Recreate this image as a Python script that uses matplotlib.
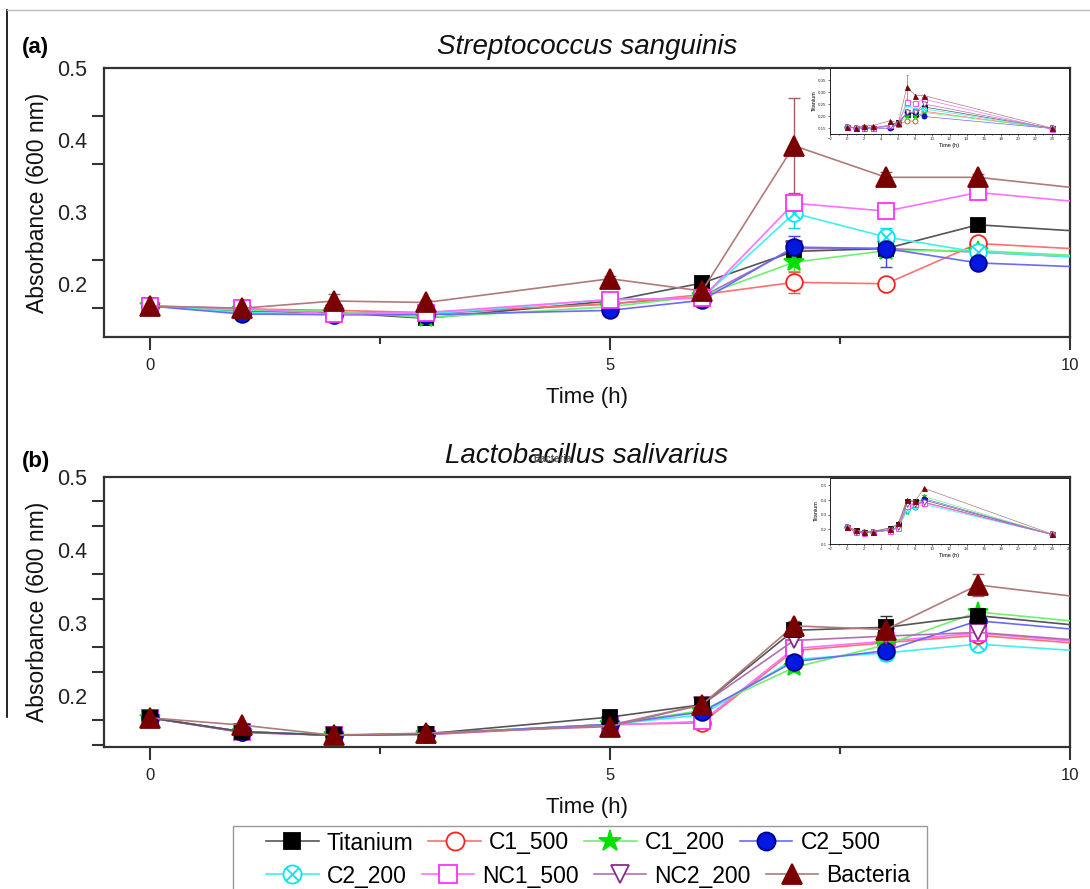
import matplotlib
matplotlib.use("Agg")
import matplotlib.pyplot as plt
from matplotlib.lines import Line2D
from matplotlib.path import Path
from matplotlib.patches import Rectangle
import numpy as np

plt.rcParams['font.family'] = ['Liberation Sans', 'DejaVu Sans']

# ---------------- data ----------------
times = [0, 1, 2, 3, 5, 6, 7, 8, 9, 24]
series_names = ["Titanium", "C1_500", "C1_200", "C2_500", "C2_200", "NC1_500", "NC2_200", "Bacteria"]

# (a) Streptococcus sanguinis - main panel
a_titanium = [0.169, 0.162, 0.160, 0.152, 0.176, 0.201, 0.245, 0.249, 0.282, 0.160]
a_c1_500   = [0.169, 0.165, 0.163, 0.160, 0.172, 0.185, 0.202, 0.200, 0.256, 0.151]
a_c1_200   = [0.169, 0.163, 0.162, 0.153, 0.168, 0.183, 0.230, 0.246, 0.246, 0.150]
a_c2_500   = [0.169, 0.158, 0.157, 0.157, 0.163, 0.177, 0.251, 0.249, 0.229, 0.154]
a_c2_200   = [0.169, 0.160, 0.157, 0.158, 0.178, 0.180, 0.298, 0.265, 0.244, 0.150]
a_nc1_500  = [0.169, 0.166, 0.158, 0.160, 0.178, 0.180, 0.312, 0.301, 0.327, 0.147]
a_nc2_200  = [0.169, 0.163, 0.160, 0.158, 0.172, 0.182, 0.249, 0.249, 0.244, 0.150]
a_bacteria = [0.169, 0.166, 0.176, 0.174, 0.207, 0.190, 0.392, 0.348, 0.348, 0.140]

a_err_titanium = [0.003, 0.003, 0.003, 0.003, 0.004, 0.008, 0.006, 0.008, 0.004, 0.003]
a_err_c1_500   = [0.003, 0.003, 0.003, 0.003, 0.004, 0.004, 0.015, 0.006, 0.005, 0.003]
a_err_c1_200   = [0.003, 0.003, 0.003, 0.003, 0.004, 0.004, 0.012, 0.008, 0.005, 0.003]
a_err_c2_500   = [0.003, 0.003, 0.003, 0.003, 0.004, 0.004, 0.015, 0.025, 0.004, 0.003]
a_err_c2_200   = [0.003, 0.003, 0.003, 0.003, 0.004, 0.004, 0.020, 0.012, 0.005, 0.003]
a_err_nc1_500  = [0.003, 0.003, 0.003, 0.003, 0.004, 0.004, 0.008, 0.008, 0.004, 0.003]
a_err_nc2_200  = [0.003, 0.003, 0.003, 0.003, 0.004, 0.004, 0.006, 0.006, 0.005, 0.003]
a_err_bacteria = [0.003, 0.003, 0.010, 0.004, 0.004, 0.004, 0.066, 0.008, 0.004, 0.003]

# (b) Lactobacillus salivarius - main panel
b_titanium = [0.170, 0.151, 0.146, 0.148, 0.171, 0.188, 0.290, 0.294, 0.310, 0.125]
b_c1_500   = [0.170, 0.151, 0.146, 0.148, 0.161, 0.163, 0.262, 0.273, 0.283, 0.130]
b_c1_200   = [0.170, 0.151, 0.146, 0.148, 0.161, 0.180, 0.239, 0.270, 0.315, 0.135]
b_c2_500   = [0.170, 0.151, 0.146, 0.148, 0.161, 0.178, 0.247, 0.262, 0.303, 0.135]
b_c2_200   = [0.170, 0.151, 0.147, 0.148, 0.161, 0.174, 0.250, 0.259, 0.271, 0.145]
b_nc1_500  = [0.170, 0.150, 0.146, 0.147, 0.160, 0.165, 0.265, 0.275, 0.286, 0.125]
b_nc2_200  = [0.170, 0.150, 0.146, 0.147, 0.160, 0.188, 0.276, 0.282, 0.287, 0.140]
b_bacteria = [0.170, 0.160, 0.146, 0.149, 0.158, 0.188, 0.296, 0.291, 0.352, 0.127]

b_err_titanium = [0.003, 0.003, 0.003, 0.003, 0.003, 0.004, 0.006, 0.015, 0.006, 0.003]
b_err_c1_500   = [0.003, 0.003, 0.003, 0.003, 0.003, 0.004, 0.006, 0.006, 0.006, 0.003]
b_err_c1_200   = [0.003, 0.003, 0.003, 0.003, 0.003, 0.004, 0.006, 0.008, 0.006, 0.003]
b_err_c2_500   = [0.003, 0.003, 0.003, 0.003, 0.003, 0.004, 0.006, 0.008, 0.006, 0.003]
b_err_c2_200   = [0.003, 0.003, 0.003, 0.003, 0.003, 0.004, 0.006, 0.010, 0.006, 0.003]
b_err_nc1_500  = [0.003, 0.003, 0.003, 0.003, 0.003, 0.004, 0.008, 0.006, 0.006, 0.003]
b_err_nc2_200  = [0.003, 0.003, 0.003, 0.003, 0.003, 0.004, 0.008, 0.006, 0.006, 0.003]
b_err_bacteria = [0.003, 0.003, 0.003, 0.003, 0.003, 0.004, 0.006, 0.006, 0.015, 0.003]

# insets (full 24 h time course)
ia_titanium = [0.155, 0.150, 0.152, 0.150, 0.160, 0.175, 0.210, 0.210, 0.238, 0.148]
ia_c1_500   = [0.155, 0.152, 0.155, 0.152, 0.158, 0.165, 0.180, 0.178, 0.220, 0.148]
ia_c1_200   = [0.155, 0.150, 0.152, 0.150, 0.155, 0.165, 0.200, 0.200, 0.215, 0.148]
ia_c2_500   = [0.155, 0.148, 0.148, 0.148, 0.148, 0.165, 0.215, 0.215, 0.198, 0.148]
ia_c2_200   = [0.155, 0.150, 0.150, 0.150, 0.160, 0.168, 0.250, 0.225, 0.230, 0.148]
ia_nc1_500  = [0.155, 0.152, 0.152, 0.152, 0.162, 0.168, 0.260, 0.255, 0.270, 0.145]
ia_nc2_200  = [0.155, 0.150, 0.152, 0.150, 0.158, 0.166, 0.215, 0.215, 0.250, 0.148]
ia_bacteria = [0.155, 0.152, 0.160, 0.160, 0.180, 0.172, 0.320, 0.285, 0.285, 0.150]
ia_err_bacteria = [0.003, 0.003, 0.004, 0.004, 0.004, 0.004, 0.050, 0.006, 0.004, 0.003]

ib_titanium = [0.215, 0.195, 0.180, 0.185, 0.210, 0.235, 0.390, 0.390, 0.400, 0.165]
ib_c1_500   = [0.215, 0.185, 0.180, 0.182, 0.195, 0.210, 0.360, 0.370, 0.385, 0.165]
ib_c1_200   = [0.215, 0.185, 0.180, 0.182, 0.195, 0.215, 0.320, 0.350, 0.425, 0.165]
ib_c2_500   = [0.215, 0.185, 0.180, 0.182, 0.195, 0.215, 0.340, 0.350, 0.410, 0.165]
ib_c2_200   = [0.215, 0.182, 0.178, 0.180, 0.195, 0.215, 0.330, 0.350, 0.370, 0.165]
ib_nc1_500  = [0.215, 0.180, 0.178, 0.180, 0.192, 0.208, 0.360, 0.370, 0.380, 0.165]
ib_nc2_200  = [0.215, 0.180, 0.178, 0.180, 0.195, 0.215, 0.370, 0.375, 0.385, 0.165]
ib_bacteria = [0.215, 0.198, 0.180, 0.185, 0.200, 0.240, 0.400, 0.395, 0.480, 0.168]

a_yticks = [0.5, 0.4, 0.3, 0.2]
b_yticks = [0.5, 0.4, 0.3, 0.2]
x_ticks = [0, 5, 10]

# ---------------- styles ----------------
d = 0.7071
cross_circle = Path.make_compound_path(
    Path.unit_circle(),
    Path([[-d, -d], [d, d], [-d, d], [d, -d]],
         [Path.MOVETO, Path.LINETO, Path.MOVETO, Path.LINETO]))

styles = {
    "Titanium": dict(marker='s', mfc='black', mec='black', ms=10, line='#555555', ecol='#333333'),
    "C1_500":   dict(marker='o', mfc='white', mec='#ff2020', ms=12, line='#ff7070', ecol='#ff5050'),
    "C1_200":   dict(marker='*', mfc='#00e000', mec='#00e000', ms=15, line='#70f070', ecol='#40e040'),
    "C2_500":   dict(marker='o', mfc='#0018e0', mec='#000090', ms=12, line='#6a6aff', ecol='#4040ff'),
    "C2_200":   dict(marker=cross_circle, mfc='white', mec='#00e8f0', ms=12, line='#40f0f0', ecol='#00d8e8'),
    "NC1_500":  dict(marker='s', mfc='white', mec='#ff30ff', ms=12, line='#ff70ff', ecol='#ff40ff'),
    "NC2_200":  dict(marker='v', mfc='white', mec='#8a2a8a', ms=12, line='#b070b0', ecol='#9a409a'),
    "Bacteria": dict(marker='^', mfc='#7a0000', mec='#7a0000', ms=14, line='#b07a7a', ecol='#a06060'),
}
order_a = ["NC2_200", "Titanium", "C1_500", "C1_200", "C2_200", "C2_500", "NC1_500", "Bacteria"]
order_b = ["C2_200", "C1_500", "NC1_500", "C1_200", "C2_500", "NC2_200", "Titanium", "Bacteria"]

a_data = [a_titanium, a_c1_500, a_c1_200, a_c2_500, a_c2_200, a_nc1_500, a_nc2_200, a_bacteria]
a_errs = [a_err_titanium, a_err_c1_500, a_err_c1_200, a_err_c2_500, a_err_c2_200, a_err_nc1_500, a_err_nc2_200, a_err_bacteria]
b_data = [b_titanium, b_c1_500, b_c1_200, b_c2_500, b_c2_200, b_nc1_500, b_nc2_200, b_bacteria]
b_errs = [b_err_titanium, b_err_c1_500, b_err_c1_200, b_err_c2_500, b_err_c2_200, b_err_nc1_500, b_err_nc2_200, b_err_bacteria]
ia_data = [ia_titanium, ia_c1_500, ia_c1_200, ia_c2_500, ia_c2_200, ia_nc1_500, ia_nc2_200, ia_bacteria]
ib_data = [ib_titanium, ib_c1_500, ib_c1_200, ib_c2_500, ib_c2_200, ib_nc1_500, ib_nc2_200, ib_bacteria]

W, H = 1090, 889
fig = plt.figure(figsize=(W / 100, H / 100), dpi=100)


def fx(px):
    return px / W


def fy(py):
    return 1 - py / H


def main_panel(rect, data, errs, order, ylim, yticks, minor_step, title, letter, letter_y):
    ax = fig.add_axes(rect)
    lookup = dict(zip(series_names, zip(data, errs)))
    for z, name in enumerate(order):
        vals, err = lookup[name]
        st = styles[name]
        ax.errorbar(times, vals, yerr=err, fmt='none', ecolor=st['ecol'],
                    elinewidth=1.0, capsize=4, capthick=1.0, zorder=2, clip_on=True)
        ax.plot(times, vals, color=st['line'], lw=1.2, marker=st['marker'],
                ms=st['ms'], mfc=st['mfc'], mec=st['mec'], mew=1.3, zorder=3 + z * 0.01)
    ax.set_xlim(-0.5, 10)
    ax.set_ylim(*ylim)
    ax.set_xticks(x_ticks)
    ax.set_xticks([2.5, 7.5], minor=True)
    ax.set_yticks(yticks)
    ax.set_yticklabels([f"{v:.1f}" for v in yticks])
    ax.set_yticks(np.arange(0.5, ylim[0], -minor_step), minor=True)
    ax.tick_params(axis='y', which='major', length=0, pad=12, labelsize=15.5, colors='#222222')
    ax.tick_params(axis='y', which='minor', length=9, width=1.5, color='#333333', direction='out')
    ax.tick_params(axis='x', which='major', length=9, width=1.5, color='#333333',
                   pad=6, labelsize=12, labelcolor='#222222', direction='out')
    ax.tick_params(axis='x', which='minor', length=5, width=1.5, color='#333333', direction='out')
    for s in ax.spines.values():
        s.set_linewidth(1.6)
        s.set_color('#333333')
    ax.set_xlabel("Time (h)", fontsize=16, labelpad=10, color='#111111')
    ax.set_ylabel("Absorbance (600 nm)", fontsize=16.5, labelpad=6, color='#111111')
    ax.set_title(title, fontsize=20, style='italic', pad=10, color='#111111')
    fig.text(fx(22), fy(letter_y), letter, fontsize=16, fontweight='bold', va='center', ha='left')
    return ax


def inset(rect, data, ylim, yticks, ylabels, err=None):
    ax = fig.add_axes(rect)
    ax.set_facecolor('white')
    for name, vals in zip(series_names, data):
        st = styles[name]
        if name == "Bacteria" and err is not None:
            ax.errorbar(times, vals, yerr=err, fmt='none', ecolor=st['ecol'],
                        elinewidth=0.5, capsize=1, capthick=0.5, zorder=2)
        ax.plot(times, vals, color=st['line'], lw=0.5, marker=st['marker'],
                ms=3.6, mfc=st['mfc'], mec=st['mec'], mew=0.6, zorder=3)
    ax.set_xlim(-2, 26)
    ax.set_ylim(*ylim)
    ax.set_xticks(np.arange(-2, 27, 2))
    ax.set_xticks(np.arange(-2, 27, 1), minor=True)
    ax.set_yticks(yticks)
    ax.set_yticklabels(ylabels)
    ax.tick_params(which='both', labelsize=3.2, length=1.5, width=0.5, pad=1, colors='#333333')
    ax.tick_params(which='minor', length=1)
    for s in ax.spines.values():
        s.set_linewidth(0.7)
        s.set_color('#222222')
    ax.set_xlabel("Time (h)", fontsize=4, labelpad=1)
    ax.set_ylabel("Titanium", fontsize=4, labelpad=1)
    return ax


# panel (a)
ax_a = main_panel([fx(104), fy(337), fx(1070) - fx(104), fy(68) - fy(337)],
                  a_data, a_errs, order_a, (0.126, 0.5), a_yticks, 1 / 15,
                  "Streptococcus sanguinis", "(a)", 48)
# panel (b)
ax_b = main_panel([fx(104), fy(747), fx(1070) - fx(104), fy(477) - fy(747)],
                  b_data, b_errs, order_b, (0.130, 0.5), b_yticks, 1 / 30,
                  "Lactobacillus salivarius", "(b)", 462)

inset([fx(830), fy(134), fx(1069) - fx(830), fy(68) - fy(134)], ia_data,
      (0.125, 0.40), [0.15, 0.20, 0.25, 0.30, 0.35, 0.40],
      ["0.15", "0.20", "0.25", "0.30", "0.35", "0.40"], err=ia_err_bacteria)
inset([fx(830), fy(544), fx(1069) - fx(830), fy(478) - fy(544)], ib_data,
      (0.10, 0.55), [0.1, 0.2, 0.3, 0.4, 0.5],
      ["0.1", "0.2", "0.3", "0.4", "0.5"])

# overlapping tiny label present in the reference
fig.text(fx(553), fy(459), "Bacteria", fontsize=7, color='#555555', fontweight='bold',
         ha='center', va='center', zorder=10)

# border lines of the scanned figure
fig.add_artist(Line2D([fx(7), fx(7)], [fy(10), fy(717)], color='black', lw=1.2))
fig.add_artist(Line2D([fx(7), fx(1090)], [fy(10), fy(10)], color='#bbbbbb', lw=1.0))


# legend (two flowing rows inside one frame)
def handle(name):
    st = styles[name]
    return Line2D([], [], color=st['line'], lw=1.2, marker=st['marker'], ms=st['ms'] + 1,
                  mfc=st['mfc'], mec=st['mec'], mew=1.3)


row1 = series_names[:4]
row2 = series_names[4:]
for row, ypx in ((row1, 843), (row2, 876)):
    fig.legend([handle(n) for n in row], row, ncol=4, loc='center left',
               bbox_to_anchor=(fx(266), fy(ypx)), frameon=False, fontsize=16.5,
               handlelength=2.3, handletextpad=0.35, columnspacing=0.65,
               borderpad=0, borderaxespad=0)
fig.add_artist(Rectangle((fx(233), -0.05), fx(927) - fx(233), fy(826) + 0.05,
                         transform=fig.transFigure, fill=False, edgecolor='#999999', lw=1.0))

fig.savefig("out.png", dpi=100)
